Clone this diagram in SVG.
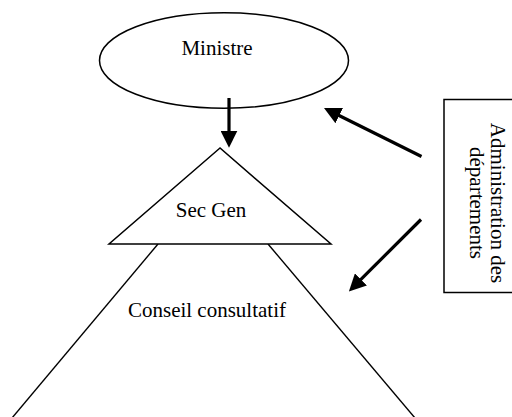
<svg xmlns="http://www.w3.org/2000/svg" width="512" height="417" viewBox="0 0 512 417">
  <style>
    .lbl { font-family: "Liberation Serif", "Times New Roman", serif; font-size: 21px; fill: #000; text-anchor: middle; }
    .shape { fill: #fff; stroke: #000; stroke-width: 1.5; }
    .edge { fill: none; stroke: #000; stroke-width: 1.4; }
    .arrow { fill: none; stroke: #000; stroke-width: 3.2; marker-end: url(#head); }
  </style>
  <defs>
    <marker id="head" markerUnits="userSpaceOnUse" markerWidth="17" markerHeight="17" refX="6" refY="8" orient="auto" viewBox="0 0 16 16">
      <path d="M0,0 L16,8 L0,16 z" fill="#000"/>
    </marker>
  </defs>
  <rect width="512" height="417" fill="#fff"/>

  <g id="conseil">
    <line class="edge" x1="158" y1="244" x2="12" y2="418"/>
    <line class="edge" x1="268" y1="244" x2="415" y2="418"/>
    <text class="lbl" x="207" y="317">Conseil consultatif</text>
  </g>

  <g id="secgen">
    <polygon class="shape" points="220,148 109,244 331,244"/>
    <text class="lbl" x="211" y="217">Sec Gen</text>
  </g>

  <g id="ministre">
    <ellipse class="shape" cx="224" cy="60.5" rx="124.5" ry="47.8"/>
    <text class="lbl" x="217" y="55">Ministre</text>
  </g>

  <g id="administration">
    <rect class="shape" x="444" y="99.5" width="72" height="193"/>
    <text class="lbl" transform="translate(491,203) rotate(90)">Administration des</text>
    <text class="lbl" transform="translate(470,203) rotate(90)">départements</text>
  </g>

  <g id="connectors">
    <line class="arrow" x1="229" y1="98" x2="229" y2="137"/>
    <line class="arrow" x1="421.5" y1="156.5" x2="333.5" y2="112.8"/>
    <line class="arrow" x1="421" y1="219.5" x2="356.4" y2="283.9"/>
  </g>
</svg>
